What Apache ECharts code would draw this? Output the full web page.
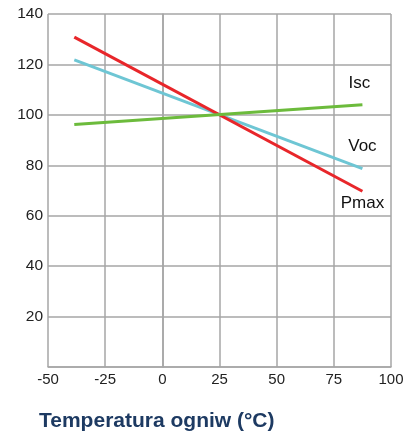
<!DOCTYPE html>
<html><head><meta charset="utf-8">
<script src="https://cdn.jsdelivr.net/npm/echarts@6/dist/echarts.min.js"></script>
<style>html,body{margin:0;padding:0;background:#fff}#c{width:413px;height:432px}</style>
</head><body><div id="c"></div>
<script>
var temps = [-38.5, 87.5];
var pmax = [130.8, 69.7];
var voc = [121.8, 78.7];
var isc = [96.2, 104.0];
var xTicks = [-50, 100, 25];
var yTicks = [0, 140, 20];
var names = ['Pmax', 'Voc', 'Isc'];
var colors = ['#e8262a', '#6ec6d4', '#6cbb3c'];

var font = 'Liberation Sans, Arial, sans-serif';
function pts(vals) {
  return vals.map(function (v, i) { return [temps[i], v]; });
}
function endLbl(name, off) {
  return { show: true, formatter: name, distance: 0, offset: off, align: 'center',
    verticalAlign: 'middle', color: '#111', fontSize: 17, fontFamily: font };
}
var chart = echarts.init(document.getElementById('c'), null, { renderer: 'canvas' });
chart.setOption({
  animation: false,
  title: { text: 'Temperatura ogniw (°C)', left: 34, top: 406,
    textStyle: { fontSize: 21, fontWeight: 'bold', color: '#1d3a62', fontFamily: font } },
  grid: { left: 48, right: 22, top: 14, bottom: 65, containLabel: false },
  xAxis: { type: 'value', min: xTicks[0], max: xTicks[1], interval: xTicks[2],
    axisLine: { show: true, lineStyle: { color: '#a6a6a6', width: 1.5 } },
    axisTick: { show: false },
    splitLine: { show: true, lineStyle: { color: '#a6a6a6', width: 1.5 } },
    axisLabel: { color: '#222', fontSize: 15, fontFamily: font, margin: 5 } },
  yAxis: { type: 'value', min: yTicks[0], max: yTicks[1], interval: yTicks[2],
    axisLine: { show: true, lineStyle: { color: '#a6a6a6', width: 1.5 } },
    axisTick: { show: false },
    splitLine: { show: true, lineStyle: { color: '#a6a6a6', width: 1.5 } },
    axisLabel: { color: '#222', fontSize: 15.5, fontFamily: font, margin: 5,
      formatter: function (v) { return v === 0 ? '' : v; } } },
  series: [
    { type: 'line', name: names[0], data: pts(pmax), endLabel: endLbl(names[0], [0, 12]),
      symbol: 'none', lineStyle: { color: colors[0], width: 3 }, z: 3 },
    { type: 'line', name: names[1], data: pts(voc), endLabel: endLbl(names[1], [0, -22]),
      symbol: 'none', lineStyle: { color: colors[1], width: 3 }, z: 2 },
    { type: 'line', name: names[2], data: pts(isc), endLabel: endLbl(names[2], [-3, -21]),
      symbol: 'none', lineStyle: { color: colors[2], width: 3 }, z: 4 }
  ]
});
</script></body></html>
